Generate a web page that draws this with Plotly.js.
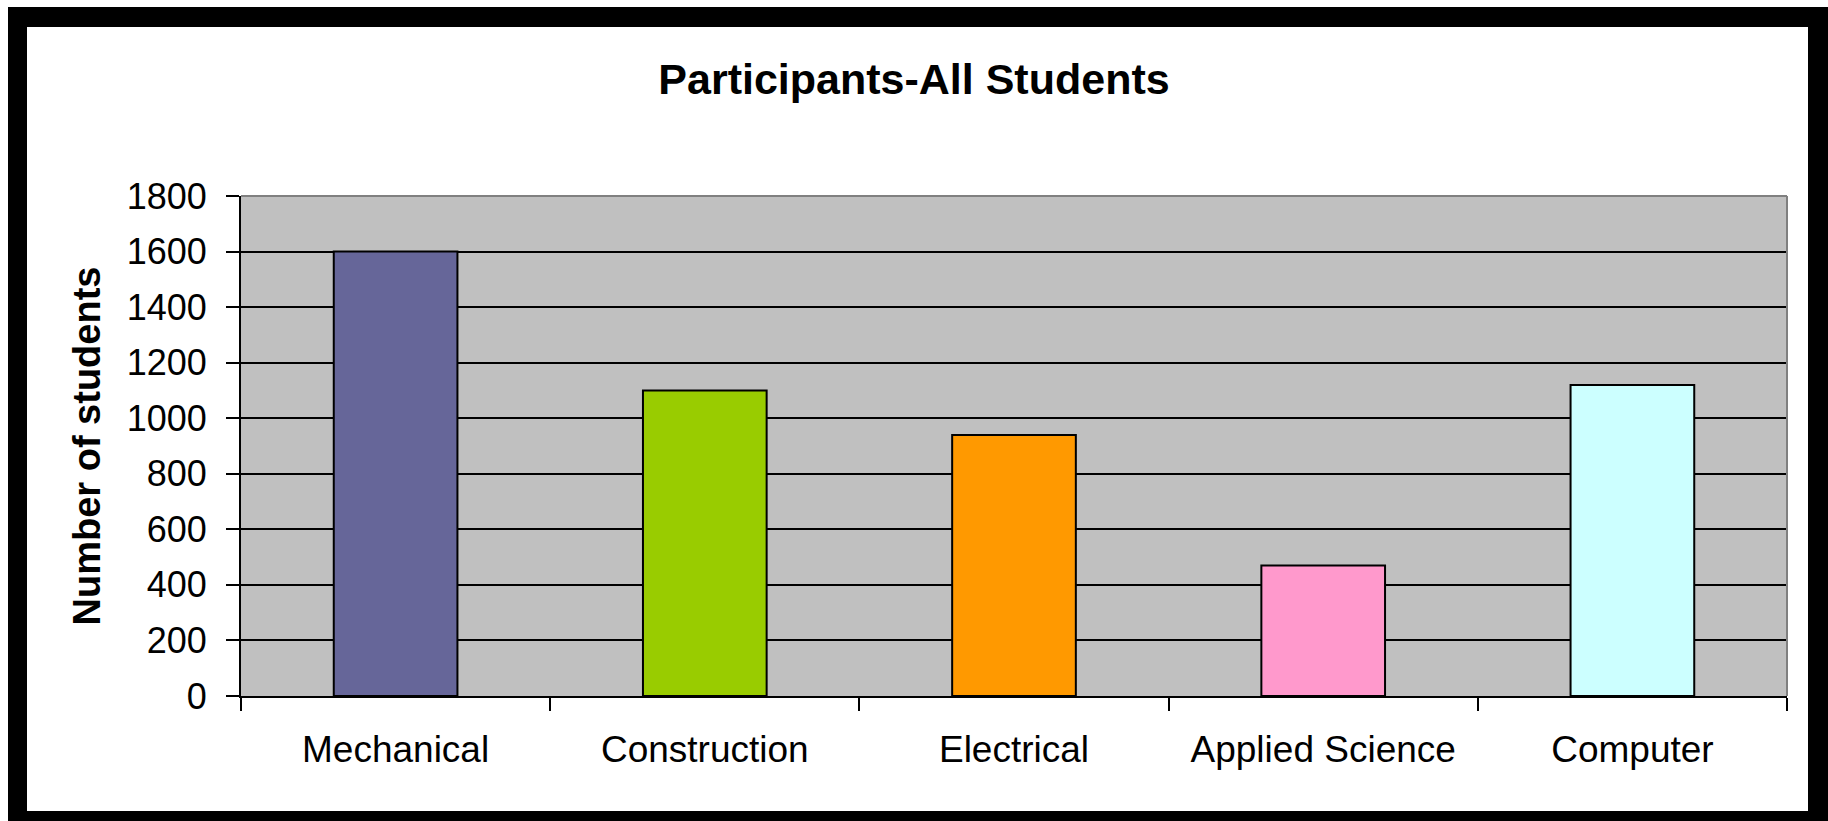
<!DOCTYPE html>
<html>
<head>
<meta charset="utf-8">
<script src="https://cdn.plot.ly/plotly-3.0.1.min.js"></script>
<style>
  html, body { margin: 0; padding: 0; background: #ffffff; }
  #wrap { position: relative; width: 1828px; height: 821px; overflow: hidden; }
  #chart { position: absolute; left: 0; top: 0; width: 1828px; height: 821px; }
  #frame {
    position: absolute; left: 8px; top: 7px; width: 1820px; height: 814px;
    box-sizing: border-box; border-style: solid; border-color: #000;
    border-width: 20px 20px 10px 19px; pointer-events: none;
  }
</style>
</head>
<body>
<div id="wrap">
  <div id="chart"></div>
  <div id="frame"></div>
</div>
<script>
const categories = ["Mechanical", "Construction", "Electrical", "Applied Science", "Computer"];
const students = [1600, 1100, 940, 470, 1120];
const barColors = ["#666699", "#99CC00", "#FF9900", "#FF99CC", "#CCFFFF"];
const yTickValues = [0, 200, 400, 600, 800, 1000, 1200, 1400, 1600, 1800];
const chartTitle = "Participants-All Students";
const yTitle = "Number of students";

const fontFamily = "'Liberation Sans', Arial, sans-serif";

const trace = {
  type: "bar",
  x: categories,
  y: students,
  marker: { color: barColors, line: { color: "#000000", width: 2 } },
  hoverinfo: "x+y"
};

const layout = {
  width: 1828,
  height: 821,
  margin: { l: 241, r: 41, t: 196, b: 125, pad: 0 },
  paper_bgcolor: "#ffffff",
  plot_bgcolor: "#C0C0C0",
  showlegend: false,
  bargap: 0.6,
  font: { family: fontFamily, color: "#000000" },
  title: {
    text: chartTitle,
    x: 0.5, xref: "container", xanchor: "center",
    y: 1 - 79 / 821, yref: "container", yanchor: "middle",
    font: { family: fontFamily, size: 43, weight: 700, color: "#000000" }
  },
  xaxis: {
    type: "category",
    tickson: "boundaries",
    ticks: "outside",
    ticklen: 13,
    tickwidth: 2,
    tickcolor: "#000000",
    showgrid: false,
    showline: true,
    linecolor: "#000000",
    linewidth: 2,
    tickfont: { family: fontFamily, size: 37, color: "#000000" },
    ticklabelstandoff: 20,
    zeroline: false,
    fixedrange: true
  },
  yaxis: {
    range: [0, 1800],
    tickvals: yTickValues,
    ticktext: yTickValues.map(String),
    ticks: "outside",
    ticklen: 13,
    tickwidth: 2,
    tickcolor: "#000000",
    showgrid: true,
    gridcolor: "#000000",
    gridwidth: 2,
    showline: true,
    linecolor: "#000000",
    linewidth: 2,
    zeroline: false,
    tickfont: { family: fontFamily, size: 36, color: "#000000" },
    ticklabelstandoff: 12,
    title: {
      text: yTitle,
      standoff: 14,
      font: { family: fontFamily, size: 38, weight: 700, color: "#000000" }
    },
    automargin: false,
    fixedrange: true
  },
  shapes: [
    { type: "line", xref: "paper", yref: "paper", x0: 0, x1: 1, y0: 1, y1: 1,
      line: { color: "#808080", width: 2 }, layer: "above" },
    { type: "line", xref: "paper", yref: "paper", x0: 1, x1: 1, y0: 0, y1: 1,
      line: { color: "#808080", width: 2 }, layer: "above" }
  ]
};

Plotly.newPlot("chart", [trace], layout, { displayModeBar: false, staticPlot: true });
</script>
</body>
</html>
